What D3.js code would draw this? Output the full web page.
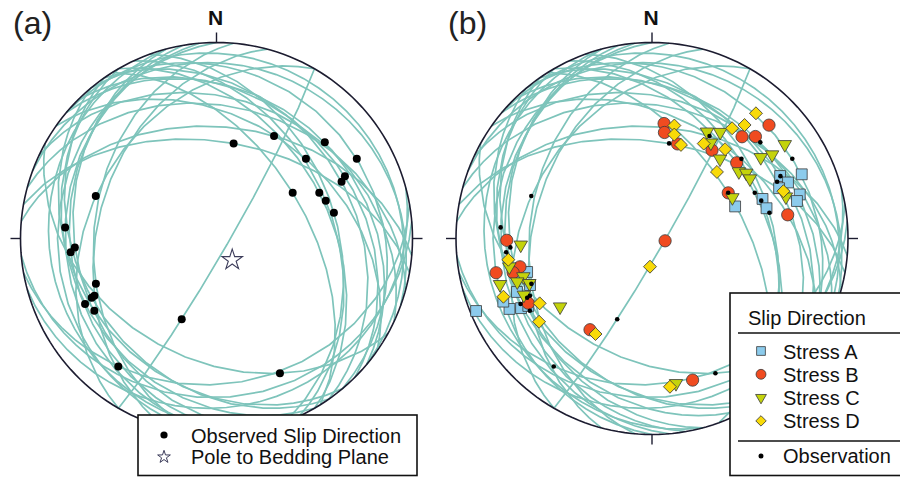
<!DOCTYPE html>
<html lang="en">
<head>
<meta charset="UTF-8">
<title>Fault slip stereonets</title>
<script src="https://cdn.jsdelivr.net/npm/d3@7"></script>
<style>
  body { margin: 0; background: #fff; }
  svg { display: block; font-family: "Liberation Sans", Arial, sans-serif; }
</style>
</head>
<body>
<svg id="chart" width="900" height="477"></svg>
<script>
// fault planes (dip direction / dip, degrees)
const planeDipDir = [10, 5, 40, 50, 35, 45, 55, 58, 60, 65, 70, 300, 265, 255, 260, 275, 285, 235, 240, 230, 120, 170, 209, 165, 175, 40, 20, 15, 25, 255, 270];
const planeDip    = [49.2, 42.4, 27.3, 19.1, 39.6, 29.4, 31, 52.6, 42.3, 40.8, 38.8, 35.5, 23.9, 28.9, 26.3, 37.4, 39, 30.5, 26, 28.7, 85, 26.7, 38.4, 15, 20, 8, 12, 33, 30, 16, 20];

// observed slip directions (trend / plunge)
const slipTrend  = [10.2, 29.3, 48.4, 60.4, 48.3, 64.1, 65.6, 59, 66, 70.9, 77.6, 289.4, 274.2, 266.4, 264.6, 249.4, 244.9, 244.6, 243.5, 239.4, 203.3, 217.5, 154.8];
const slipPlunge = [49.2, 39.8, 27, 18.8, 38.8, 28, 30.6, 52.6, 42.1, 40.7, 38.6, 35, 23.6, 28.4, 26.2, 34.6, 31.8, 30.2, 26, 28.4, 53, 18.8, 25];

// pole to bedding
const poleTrend = 143.7, polePlunge = 79;

// predicted slip directions for the four stress states
const stressATrend  = [66.8, 64.0, 67.6, 68.4, 73.4, 75.5, 68.9, 70.3, 75.2, 247.6, 243.7, 242.0, 241.4, 247.0, 255.0, 249.1, 248.4];
const stressAPlunge = [18.0, 28.1, 25.9, 30.9, 22.4, 24.6, 52.5, 39.9, 39.4, 3.3, 20.0, 25.3, 28.9, 18.7, 34.4, 33.8, 26.8];
const stressBTrend  = [6.0, 6.7, 15.1, 34.2, 41.5, 45.4, 45.9, 48.2, 59.1, 80.1, 100.0, 269.3, 257.6, 257.9, 256.2, 242.4, 214.2, 164.0];
const stressBPlunge = [40.7, 44.7, 48.6, 44.7, 31.3, 26.8, 18.0, 41.6, 52.6, 30.4, 84.5, 26.8, 19.7, 31.7, 27.9, 29.5, 43.1, 25.8];
const stressCTrend  = [267.2, 27.3, 32.7, 31.6, 40.5, 53.3, 55.1, 54.7, 52.4, 55.2, 58.6, 63.0, 72.7, 258.8, 253.2, 253.5, 252.2, 249.9, 246.2, 233.4, 170.6];
const stressCPlunge = [33.4, 38.7, 35.8, 42.2, 45.6, 31.4, 26.2, 18.1, 43.4, 41.1, 41.1, 52.0, 29.2, 26.7, 20.1, 32.1, 28.6, 33.8, 29.3, 41.2, 26.0];
const stressDTrend  = [39.7, 11.2, 12.1, 17.2, 36.0, 39.2, 28.6, 39.3, 44.3, 70.2, 184.1, 261.6, 248.6, 240.0, 233.6, 210.6, 173.1];
const stressDPlunge = [18.1, 40.9, 44.9, 48.6, 31.1, 26.2, 44.1, 40.8, 50.8, 29.5, 78.3, 26.8, 19.7, 34.2, 29.2, 42.8, 24.8];

const legendA = ["Observed Slip Direction", "Pole to Bedding Plane"];
const legendB = ["Stress A", "Stress B", "Stress C", "Stress D"];

const arcColor = "#7ec4bb";
const rimColor = "#1c1c30";
const colA = "#8ccbec", colB = "#f04b20", colC = "#c4d30c", colD = "#f8da08";

const svg = d3.select("#chart");
const R = 196;

// lower hemisphere equal-area net: azimuth measured clockwise from north
const toLonLat = (az, pl) => [180 - az, pl];
function makeProjection(cx, cy) {
  return d3.geoAzimuthalEqualArea()
    .rotate([0, -90])
    .scale(R / Math.SQRT2)
    .translate([cx, cy]);
}
function planeLine(dd, dip) {
  return {
    type: "LineString",
    coordinates: [toLonLat(dd - 90, 0), toLonLat(dd, dip), toLonLat(dd + 90, 0)]
  };
}

const panels = [
  { label: "(a)", cx: 216.5, cy: 238.5, lx: 13 },
  { label: "(b)", cx: 652, cy: 238.5, lx: 448 }
];

panels.forEach((p, k) => {
  const proj = makeProjection(p.cx, p.cy);
  const path = d3.geoPath(proj);
  const g = svg.append("g");

  g.selectAll("path.gc")
    .data(d3.range(planeDipDir.length))
    .join("path")
    .attr("class", "gc")
    .attr("d", i => path(planeLine(planeDipDir[i], planeDip[i])))
    .attr("fill", "none")
    .attr("stroke", arcColor)
    .attr("stroke-width", 1.7);

  g.append("path")
    .attr("d", path(d3.geoCircle().center([0, 90]).radius(90)()))
    .attr("fill", "none")
    .attr("stroke", rimColor)
    .attr("stroke-width", 1.6);

  // ticks at N, E, S, W
  [0, 90, 180, 270].forEach(az => {
    const [x0, y0] = proj(toLonLat(az, 0));
    const ux = (x0 - p.cx) / R, uy = (y0 - p.cy) / R;
    g.append("line")
      .attr("x1", x0).attr("y1", y0)
      .attr("x2", x0 + ux * 10).attr("y2", y0 + uy * 10)
      .attr("stroke", rimColor).attr("stroke-width", 1.4);
  });

  const top = proj(toLonLat(0, 0));
  g.append("text")
    .attr("x", top[0] - 1).attr("y", top[1] - 17.5)
    .attr("text-anchor", "middle")
    .attr("font-size", 21).attr("font-weight", "bold")
    .attr("fill", "#111")
    .text("N");

  g.append("text")
    .attr("x", p.lx).attr("y", 34)
    .attr("font-size", 32)
    .attr("fill", "#222")
    .text(p.label);

  if (k === 0) {
    g.selectAll("circle.slip")
      .data(d3.range(slipTrend.length))
      .join("circle")
      .attr("cx", i => proj(toLonLat(slipTrend[i], slipPlunge[i]))[0])
      .attr("cy", i => proj(toLonLat(slipTrend[i], slipPlunge[i]))[1])
      .attr("r", 4)
      .attr("fill", "#000");

    const [sx, sy] = proj(toLonLat(poleTrend, polePlunge));
    g.append("path")
      .attr("d", d3.symbol(d3.symbolStar, 130)())
      .attr("transform", `translate(${sx},${sy})`)
      .attr("fill", "#fff")
      .attr("stroke", "#3c3c5a")
      .attr("stroke-width", 1.1);

    // legend
    const lg = svg.append("g");
    lg.append("rect")
      .attr("x", 138).attr("y", 415).attr("width", 279).attr("height", 60.5)
      .attr("fill", "#fff").attr("stroke", "#111").attr("stroke-width", 1.6);
    lg.append("circle").attr("cx", 164).attr("cy", 435).attr("r", 3.6).attr("fill", "#000");
    lg.append("path")
      .attr("d", d3.symbol(d3.symbolStar, 50)())
      .attr("transform", "translate(164,457)")
      .attr("fill", "#fff").attr("stroke", "#3c3c5a").attr("stroke-width", 1);
    lg.selectAll("text")
      .data(legendA)
      .join("text")
      .attr("x", 191)
      .attr("y", (d, i) => 443 + i * 20.5)
      .attr("font-size", 20)
      .attr("fill", "#111")
      .text(d => d);
  } else {
    const sets = [
      { t: stressATrend, p: stressAPlunge, type: d3.symbolSquare, size: 118, fill: colA, rot: 0 },
      { t: stressBTrend, p: stressBPlunge, type: d3.symbolCircle, size: 118, fill: colB, rot: 0 },
      { t: stressCTrend, p: stressCPlunge, type: d3.symbolTriangle, size: 78, fill: colC, rot: 180 },
      { t: stressDTrend, p: stressDPlunge, type: d3.symbolSquare, size: 84, fill: colD, rot: 45 }
    ];
    sets.forEach(s => {
      g.append("g").selectAll("path")
        .data(d3.range(s.t.length))
        .join("path")
        .attr("d", d3.symbol(s.type, s.size)())
        .attr("transform", i => {
          const [x, y] = proj(toLonLat(s.t[i], s.p[i]));
          return `translate(${x},${y}) rotate(${s.rot})`;
        })
        .attr("fill", s.fill)
        .attr("stroke", "#3a3a3a")
        .attr("stroke-width", 0.8);
    });

    g.selectAll("circle.obs")
      .data(d3.range(slipTrend.length))
      .join("circle")
      .attr("cx", i => proj(toLonLat(slipTrend[i], slipPlunge[i]))[0])
      .attr("cy", i => proj(toLonLat(slipTrend[i], slipPlunge[i]))[1])
      .attr("r", 2.3)
      .attr("fill", "#000");

    // legend
    const lg = svg.append("g");
    lg.append("rect")
      .attr("x", 730).attr("y", 293).attr("width", 180).attr("height", 182.5)
      .attr("fill", "#fff").attr("stroke", "#111").attr("stroke-width", 1.6);
    lg.append("text").attr("x", 748).attr("y", 325).attr("font-size", 20).attr("fill", "#111")
      .text("Slip Direction");
    lg.append("line").attr("x1", 738).attr("x2", 900).attr("y1", 333).attr("y2", 333)
      .attr("stroke", "#111").attr("stroke-width", 1.5);
    lg.append("line").attr("x1", 738).attr("x2", 900).attr("y1", 441).attr("y2", 441)
      .attr("stroke", "#111").attr("stroke-width", 1.5);
    sets.forEach((s, i) => {
      const y = 351 + i * 23.3;
      lg.append("path")
        .attr("d", d3.symbol(s.type, s.size * 0.65)())
        .attr("transform", `translate(761,${y}) rotate(${s.rot})`)
        .attr("fill", s.fill).attr("stroke", "#3a3a3a").attr("stroke-width", 0.8);
      lg.append("text").attr("x", 783).attr("y", y + 7.5).attr("font-size", 20).attr("fill", "#111")
        .text(legendB[i]);
    });
    lg.append("circle").attr("cx", 761).attr("cy", 456).attr("r", 2.5).attr("fill", "#000");
    lg.append("text").attr("x", 783).attr("y", 463).attr("font-size", 20).attr("fill", "#111")
      .text("Observation");
  }
});
</script>
</body>
</html>
